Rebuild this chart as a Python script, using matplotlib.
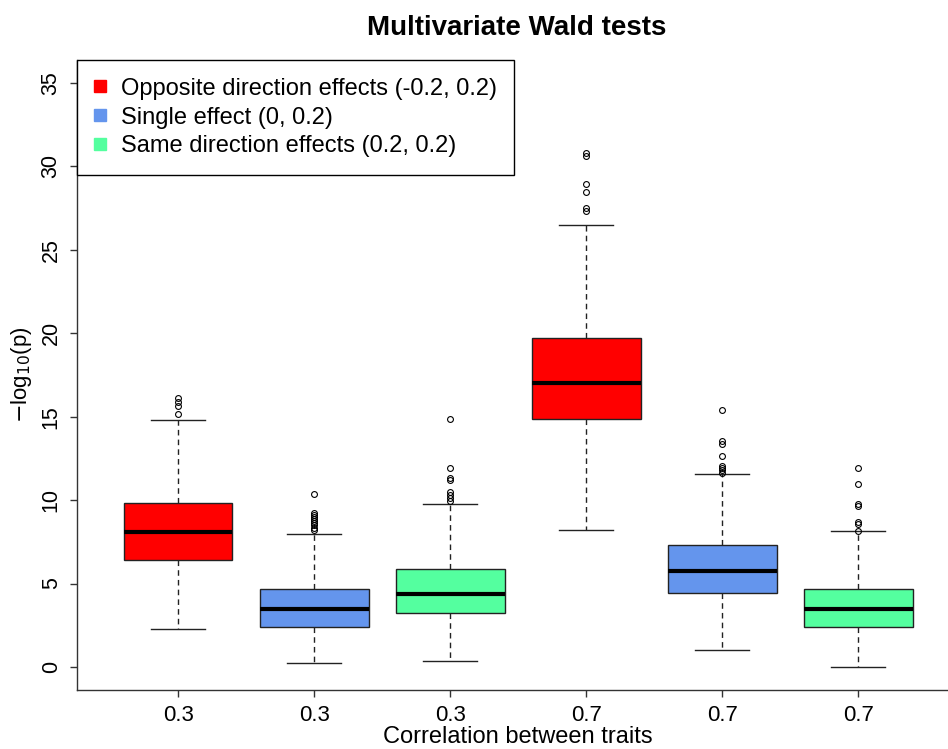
import matplotlib.pyplot as plt
from matplotlib.lines import Line2D

# box statistics: one entry per box, left to right
tick_labels = ["0.3", "0.3", "0.3", "0.7", "0.7", "0.7"]
lower_whisker = [2.30, 0.22, 0.34, 8.19, 1.00, 0.00]
q1 = [6.41, 2.40, 3.22, 14.84, 4.41, 2.40]
medians = [8.07, 3.48, 4.36, 17.02, 5.77, 3.45]
q3 = [9.83, 4.65, 5.89, 19.70, 7.31, 4.65]
upper_whisker = [14.80, 7.95, 9.79, 26.47, 11.55, 8.13]
outliers = [
    [15.16, 15.64, 15.86, 16.10],
    [8.20, 8.35, 8.50, 8.62, 8.75, 8.87, 9.00, 9.10, 9.20, 10.39],
    [9.95, 10.10, 10.28, 10.50, 11.18, 11.30, 11.91, 14.84],
    [27.30, 27.48, 28.49, 28.93, 30.63, 30.80],
    [11.65, 11.78, 11.90, 12.02, 12.66, 13.38, 13.52, 15.38],
    [8.15, 8.58, 8.70, 9.65, 9.78, 10.95, 11.91],
]
box_colors = ["#FF0000", "#6495ED", "#54FF9F", "#FF0000", "#6495ED", "#54FF9F"]

legend_labels = ["Opposite direction effects (-0.2, 0.2)",
                 "Single effect (0, 0.2)",
                 "Same direction effects (0.2, 0.2)"]
legend_colors = ["#FF0000", "#6495ED", "#54FF9F"]

plt.rcParams['font.family'] = ['Liberation Sans', 'DejaVu Sans']

fig = plt.figure(figsize=(9.48, 7.49), dpi=100)
W, H = 948, 749
ax = fig.add_axes([77 / W, (H - 690) / H, (W - 77) / W, (690 - 60) / H])

stats = []
for i in range(len(medians)):
    stats.append({
        "whislo": lower_whisker[i], "q1": q1[i], "med": medians[i],
        "q3": q3[i], "whishi": upper_whisker[i], "fliers": outliers[i],
    })

positions = list(range(1, len(stats) + 1))
bp = ax.bxp(stats, positions=positions, widths=0.8, patch_artist=True,
            showfliers=True,
            boxprops=dict(edgecolor="#222222", linewidth=1.0),
            medianprops=dict(color="black", linewidth=3.0, solid_capstyle="butt"),
            whiskerprops=dict(color="#222222", linewidth=1.0, linestyle=(0, (4, 3))),
            capprops=dict(color="#222222", linewidth=1.0),
            capwidths=0.4,
            flierprops=dict(marker="o", markersize=4.2, markerfacecolor="none",
                            markeredgecolor="black", markeredgewidth=0.8))
for patch, c in zip(bp["boxes"], box_colors):
    patch.set_facecolor(c)

ax.set_xlim(0.257, 6.66)
ax.set_ylim(-1.38, 36.38)
ax.set_yticks(range(0, 36, 5))
ax.set_xticks(positions)
ax.set_xticklabels(tick_labels, fontsize=16)
for lab in ax.get_yticklabels():
    lab.set_rotation(90)
    lab.set_verticalalignment("center")
    lab.set_fontsize(15.5)
ax.tick_params(axis="both", length=5, width=1, color="#333333")
ax.tick_params(axis="x", pad=6)
ax.tick_params(axis="y", pad=6)

ax.spines["top"].set_visible(False)
ax.spines["right"].set_visible(False)
for s in ["left", "bottom"]:
    ax.spines[s].set_color("#333333")
    ax.spines[s].set_linewidth(1.0)

fig.text(517 / W, 1 - 28 / H, "Multivariate Wald tests", ha="center", va="center",
         fontsize=20, fontweight="bold")
fig.text(22 / W, 1 - 375 / H, r"$-$log$_{10}$(p)", ha="center", va="center",
         rotation=90, fontsize=16)
fig.text(518 / W, 1 - 737 / H, "Correlation between traits", ha="center",
         va="center", fontsize=17)

handles = [Line2D([], [], marker="s", linestyle="none", markersize=8,
                  markerfacecolor=c, markeredgecolor=c) for c in legend_colors]
leg = ax.legend(handles, legend_labels, loc="upper left", bbox_to_anchor=(0, 1),
                borderaxespad=0, fancybox=False, edgecolor="black", fontsize=17,
                handlelength=0.45, handletextpad=0.65, labelspacing=0.29,
                borderpad=0.75, framealpha=1)
leg.get_frame().set_linewidth(1.0)

fig.savefig("out.png", dpi=100)
